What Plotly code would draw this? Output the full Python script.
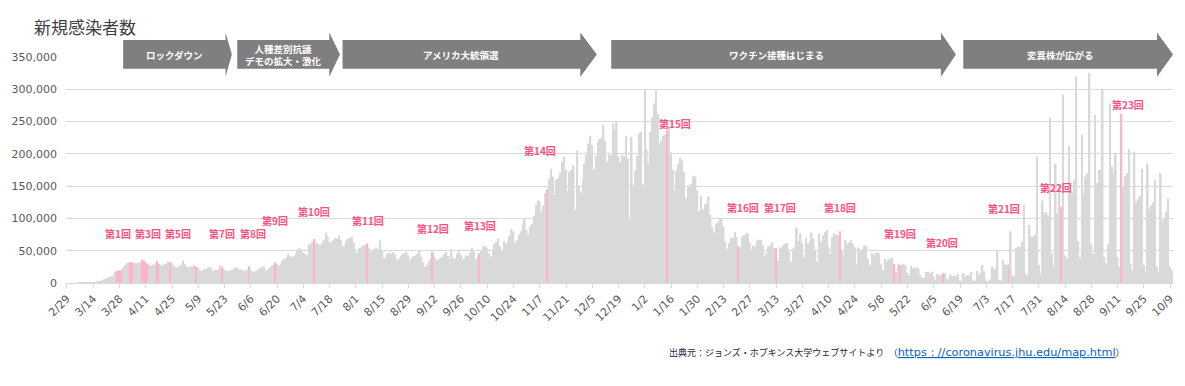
import pandas as pd
import plotly.graph_objects as go

# ---------------- data (daily new cases, thousands) ----------------
feb20 = [0]
mar20 = [0, 0, 0, 0, 0, 0.1, 0.1, 0.1, 0.2, 0.3, 0.4, 0.5, 0.6, 0.7,
         1.0, 1.6, 2.2, 3.0, 4.6, 5.6, 6.9, 9.0, 10.2, 11.0, 13.0, 17.0,
         19, 19.5, 19.5, 24, 28]
apr20 = [31, 32, 32, 32, 31, 31, 31, 32, 36, 35, 31, 30, 28, 27, 28, 29,
         34, 30, 28, 27, 29, 30, 33, 32, 31, 27, 25, 24, 26, 28]
may20 = [35, 29, 25, 24, 25, 26, 28, 25, 24, 20, 19, 22, 21, 23, 25, 24,
         19, 21, 20, 22, 27, 24, 21, 19, 19, 19, 20, 22, 24, 24, 20]
jun20 = [21, 20, 19, 21, 26, 21, 18, 17, 19, 21, 23, 25, 25, 19, 20, 23,
         26, 28, 32, 30, 27, 30, 35, 37, 39, 45, 42, 40, 42, 46]
jul20 = [50, 54, 52, 47, 45, 43, 60, 60, 63, 68, 62, 61, 59, 62, 67, 78,
         72, 64, 63, 66, 70, 69, 74, 67, 56, 58, 66, 69, 70, 72, 62]
aug20 = [48, 47, 54, 55, 58, 59, 61, 55, 47, 50, 53, 55, 52, 66, 50, 39,
         38, 45, 47, 45, 48, 45, 36, 38, 42, 45, 46, 48, 43, 36, 40]
sep20 = [42, 43, 45, 50, 41, 32, 25, 28, 35, 38, 48, 41, 35, 36, 39, 40,
         45, 48, 42, 37, 52, 39, 38, 46, 52, 44, 36, 38, 43, 42]
oct20 = [47, 55, 49, 37, 42, 46, 51, 57, 57, 55, 46, 41, 52, 60, 64, 69,
         57, 49, 65, 61, 64, 73, 84, 80, 62, 67, 75, 80, 91, 99, 83]
nov20 = [75, 88, 92, 104, 121, 128, 126, 110, 120, 139, 145, 161, 177,
         165, 137, 160, 163, 171, 188, 196, 175, 142, 172, 175, 182, 113,
         205, 151, 140, 160]
dec20 = [185, 199, 216, 228, 213, 176, 197, 218, 223, 224, 245, 220, 188,
         199, 198, 247, 237, 251, 196, 187, 198, 196, 228, 193, 98, 226,
         152, 174, 197, 232, 234]
jan21 = [153, 300, 207, 186, 234, 256, 278, 298, 262, 214, 220, 228, 230,
         237, 242, 202, 175, 143, 174, 184, 194, 190, 172, 131, 151, 148,
         154, 166, 165, 143, 111]
feb21 = [135, 114, 121, 123, 134, 106, 87, 78, 92, 95, 101, 99, 88, 64,
         53, 62, 70, 70, 79, 71, 57, 55, 72, 74, 77, 77, 62, 50]
mar21 = [58, 57, 66, 67, 67, 59, 41, 46, 57, 58, 63, 54, 54, 35, 55, 55,
         59, 61, 62, 50, 33, 53, 55, 86, 65, 77, 62, 40, 70, 61, 66]
apr21 = [78, 69, 50, 33, 77, 64, 74, 79, 82, 56, 45, 71, 77, 75, 74, 80,
         50, 43, 67, 61, 63, 66, 61, 55, 29, 55, 49, 52, 58, 58]
may21 = [37, 27, 47, 42, 46, 48, 46, 29, 20, 37, 33, 36, 38, 39, 29, 17,
         30, 28, 27, 30, 28, 16, 12, 27, 23, 24, 24, 22, 12, 8, 8]
jun21 = [17, 17, 15, 18, 10, 5, 14, 12, 13, 15, 15, 7, 5, 13, 10, 12, 11,
         14, 4, 3, 15, 10, 12, 12, 17, 4, 4, 19, 12, 15]
jul21 = [28, 18, 4, 3, 6, 25, 23, 21, 50, 5, 4, 36, 29, 28, 29, 80, 12,
         10, 54, 56, 56, 64, 121, 15, 12, 90, 72, 72, 75, 196, 28]
aug21 = [15, 128, 108, 110, 105, 256, 46, 25, 185, 108, 150, 118, 292, 43,
         38, 212, 139, 140, 160, 320, 65, 40, 230, 137, 165, 170, 325, 60,
         45, 260, 155]
sep21 = [175, 175, 300, 40, 30, 60, 278, 180, 170, 200, 40, 25, 262, 150,
         165, 170, 208, 30, 20, 203, 125, 130, 135, 177, 28, 18, 185, 115,
         120, 125]
oct21 = [159, 25, 15, 170, 95, 100, 110, 131, 25, 20]

months = [feb20, mar20, apr20, may20, jun20, jul20, aug20, sep20, oct20,
          nov20, dec20, jan21, feb21, mar21, apr21, may21, jun21, jul21,
          aug21, sep21, oct21]

# days highlighted in pink
highlight_dates = ["2020-03-27", "2020-03-28", "2020-03-29", "2020-04-03",
                   "2020-04-04", "2020-04-09", "2020-04-10", "2020-04-11",
                   "2020-04-12", "2020-04-17", "2020-04-18", "2020-04-24",
                   "2020-05-08", "2020-05-22", "2020-06-05", "2020-06-19",
                   "2020-07-10", "2020-08-07", "2020-09-11", "2020-10-06",
                   "2020-11-11", "2021-01-14", "2021-02-21", "2021-03-13",
                   "2021-04-16", "2021-05-15", "2021-05-18", "2021-06-10",
                   "2021-07-15", "2021-08-12", "2021-09-13"]

# round labels
round_labels = ["第1回", "第3回", "第5回", "第7回", "第8回", "第9回", "第10回",
                "第11回", "第12回", "第13回", "第14回", "第15回", "第16回",
                "第17回", "第18回", "第19回", "第20回", "第21回", "第22回",
                "第23回"]
round_label_day = [27.0, 43.0, 59.2, 82.8, 99.0, 110.7, 131.7, 160.7, 195.0,
                   220.0, 252.2, 324.2, 360.1, 380.0, 411.9, 443.8, 466.4,
                   499.6, 527.3, 565.5]
round_label_y = [77400, 77400, 77400, 77400, 77400, 97500, 111500, 97500,
                 85100, 89800, 205900, 247200, 117200, 117200, 117200,
                 77400, 63500, 116100, 148600, 276600]

# phase arrows
phase_labels = ["ロックダウン", "人種差別抗議<br>デモの拡大・激化", "アメリカ大統領選",
                "ワクチン接種はじまる", "変異株が広がる"]

# ---------------- build ----------------
values_k = [v for m in months for v in m]
start = pd.Timestamp("2020-02-29")
dates = pd.date_range(start, periods=len(values_k), freq="D")
cases = [v * 1000 for v in values_k]
hl = set(pd.to_datetime(highlight_dates))
GRAY = "#D9D9D9"
PINK = "#FFB3C8"
colors = [PINK if d in hl else GRAY for d in dates]

fig = go.Figure()
fig.add_bar(x=dates, y=cases, marker_color=colors, marker_line_width=0,
            hoverinfo="x+y")

W, H = 1185, 386
L, R, T, B = 66, 9, 57, 103
pw, ph = W - L - R, H - T - B


def px(X):
    return (X - L) / pw


def py(Y):
    return (H - B - Y) / ph


arrow_geo = [(123.3, 226.0, 232.3), (237.7, 330.0, 340.7),
             (343.3, 581.7, 598.3), (612.7, 943.3, 958.3),
             (965.7, 1160.0, 1176.0)]
yt, yb, yht, yhb, ym = 40.0, 68.7, 32.5, 76.7, 54.6
shapes = []
annotations = []
for (x0, xb, tip), lab in zip(arrow_geo, phase_labels):
    path = (f"M {px(x0)},{py(yt)} L {px(xb)},{py(yt)} L {px(xb)},{py(yht)} "
            f"L {px(tip)},{py(ym)} L {px(xb)},{py(yhb)} L {px(xb)},{py(yb)} "
            f"L {px(x0)},{py(yb)} Z")
    shapes.append(dict(type="path", xref="paper", yref="paper", path=path,
                       fillcolor="#7F7F7F", line=dict(width=0), layer="above"))
    annotations.append(dict(xref="paper", yref="paper", x=px((x0 + xb) / 2),
                            y=py(ym), text=f"<b>{lab}</b>", showarrow=False,
                            font=dict(size=9.5, color="white",
                                      family="Noto Sans CJK JP"),
                            xanchor="center", yanchor="middle"))

for lab, d, yv in zip(round_labels, round_label_day, round_label_y):
    annotations.append(dict(xref="x", yref="y",
                            x=start + pd.Timedelta(days=d), y=yv,
                            text=f"<b>{lab}</b>", showarrow=False,
                            font=dict(size=10, color="#FF4F7F",
                                      family="Noto Sans CJK JP"),
                            xanchor="center", yanchor="middle"))

annotations.append(dict(xref="paper", yref="paper", x=px(31.7), y=py(26.7),
                        text="新規感染者数", showarrow=False,
                        xanchor="left", yanchor="middle",
                        font=dict(size=17, color="#404040",
                                  family="Noto Sans CJK JP")))
annotations.append(dict(
    xref="paper", yref="paper", x=px(669), y=py(352.5), showarrow=False,
    xanchor="left", yanchor="middle",
    text=("出典元：ジョンズ・ホプキンス大学ウェブサイトより　（"
          "<span style='color:#0563C1;text-decoration:underline;"
          "font-family:DejaVu Sans;font-size:11.3px'>"
          "https：//coronavirus.jhu.edu/map.html</span>）"),
    font=dict(size=9, color="#262640", family="Noto Sans CJK JP")))

fig.update_layout(
    width=W, height=H, margin=dict(l=L, r=R, t=T, b=B),
    paper_bgcolor="white", plot_bgcolor="white",
    bargap=0.12, showlegend=False,
    font=dict(family="DejaVu Sans", size=11, color="#595959"),
    shapes=shapes, annotations=annotations,
    xaxis=dict(type="date",
               range=[start - pd.Timedelta(hours=12),
                      start + pd.Timedelta(days=589, hours=12)],
               tick0="2020-02-29", dtick=14 * 86400000, tickformat="%-m/%-d",
               tickangle=-45, ticks="outside", ticklen=4,
               tickcolor="#D9D9D9", showline=True, linecolor="#D9D9D9",
               linewidth=1, showgrid=False, zeroline=False,
               tickfont=dict(family="DejaVu Sans", size=11, color="#595959")),
    yaxis=dict(range=[0, 350000], tickvals=list(range(0, 350001, 50000)),
               tickformat=",", showgrid=True, gridcolor="#D9D9D9",
               zeroline=False, showline=False, ticks="",
               ticklabelstandoff=8,
               tickfont=dict(family="DejaVu Sans", size=11, color="#595959")),
)

fig.write_html("out.html", config={"displayModeBar": False},
               post_script="document.body.style.margin='0';"
                           "document.body.style.padding='0';")
